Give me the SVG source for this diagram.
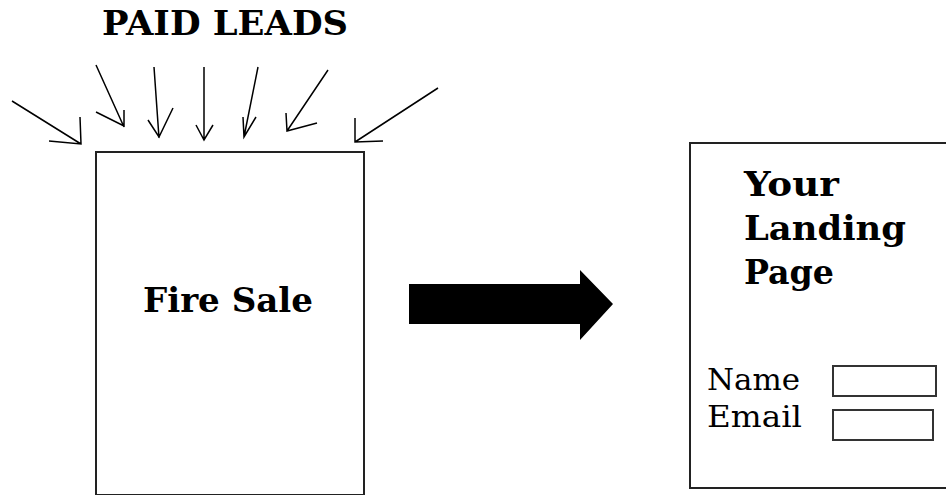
<svg xmlns="http://www.w3.org/2000/svg" width="946" height="495" viewBox="0 0 946 495">
<style>
.box{fill:#fff;stroke:#222;stroke-width:2}
.field{fill:#fff;stroke:#333;stroke-width:2}
.lead{fill:none;stroke:#000;stroke-width:1.5;stroke-linejoin:miter}
.bold{font-family:"DejaVu Serif",serif;font-weight:bold;font-size:34px;fill:#000}
.reg{font-family:"DejaVu Serif",serif;font-size:29px;fill:#000}
</style>
<rect width="946" height="495" fill="#fff"/>
<g id="title">
<text class="bold" x="102" y="35" textLength="246" lengthAdjust="spacingAndGlyphs">PAID LEADS</text>
</g>
<g id="fire-sale">
<rect class="box" x="96" y="152" width="268" height="343"/>
<text class="bold" x="143" y="312" textLength="170" lengthAdjust="spacingAndGlyphs">Fire Sale</text>
</g>
<g id="landing-page">
<rect class="box" x="690" y="143" width="270" height="345"/>
<text class="bold" x="744" y="196" textLength="95" lengthAdjust="spacingAndGlyphs">Your</text>
<text class="bold" x="744" y="240" textLength="162" lengthAdjust="spacingAndGlyphs">Landing</text>
<text class="bold" x="744" y="284" textLength="90" lengthAdjust="spacingAndGlyphs">Page</text>
<text class="reg" x="707" y="390" textLength="93" lengthAdjust="spacingAndGlyphs">Name</text>
<text class="reg" x="707" y="427" textLength="95" lengthAdjust="spacingAndGlyphs">Email</text>
<rect class="field" x="833" y="366" width="103" height="30"/>
<rect class="field" x="833" y="410" width="100" height="30"/>
</g>
<g id="connectors">
<path class="lead" d="M12,101 L81,144 M80,117 L81,144 L49,141"/>
<path class="lead" d="M96,65 L124,127 M96,112 L124,126 L124,110"/>
<path class="lead" d="M154,67 L159,138 M148,120 L159,137 L173,108"/>
<path class="lead" d="M204,67 L204,140 M196,125 L204,140 L213,125"/>
<path class="lead" d="M258,67 L244,137 M243,117 L244,137 L256,117"/>
<path class="lead" d="M328,70 L287,131 M286,113 L287,131 L317,123"/>
<path class="lead" d="M438,88 L355,142 M355,118 L355,142 L383,141"/>
<polygon fill="#000" points="409,284 580,284 580,270 613,304 580,340 580,324 409,324"/>
</g>
</svg>
